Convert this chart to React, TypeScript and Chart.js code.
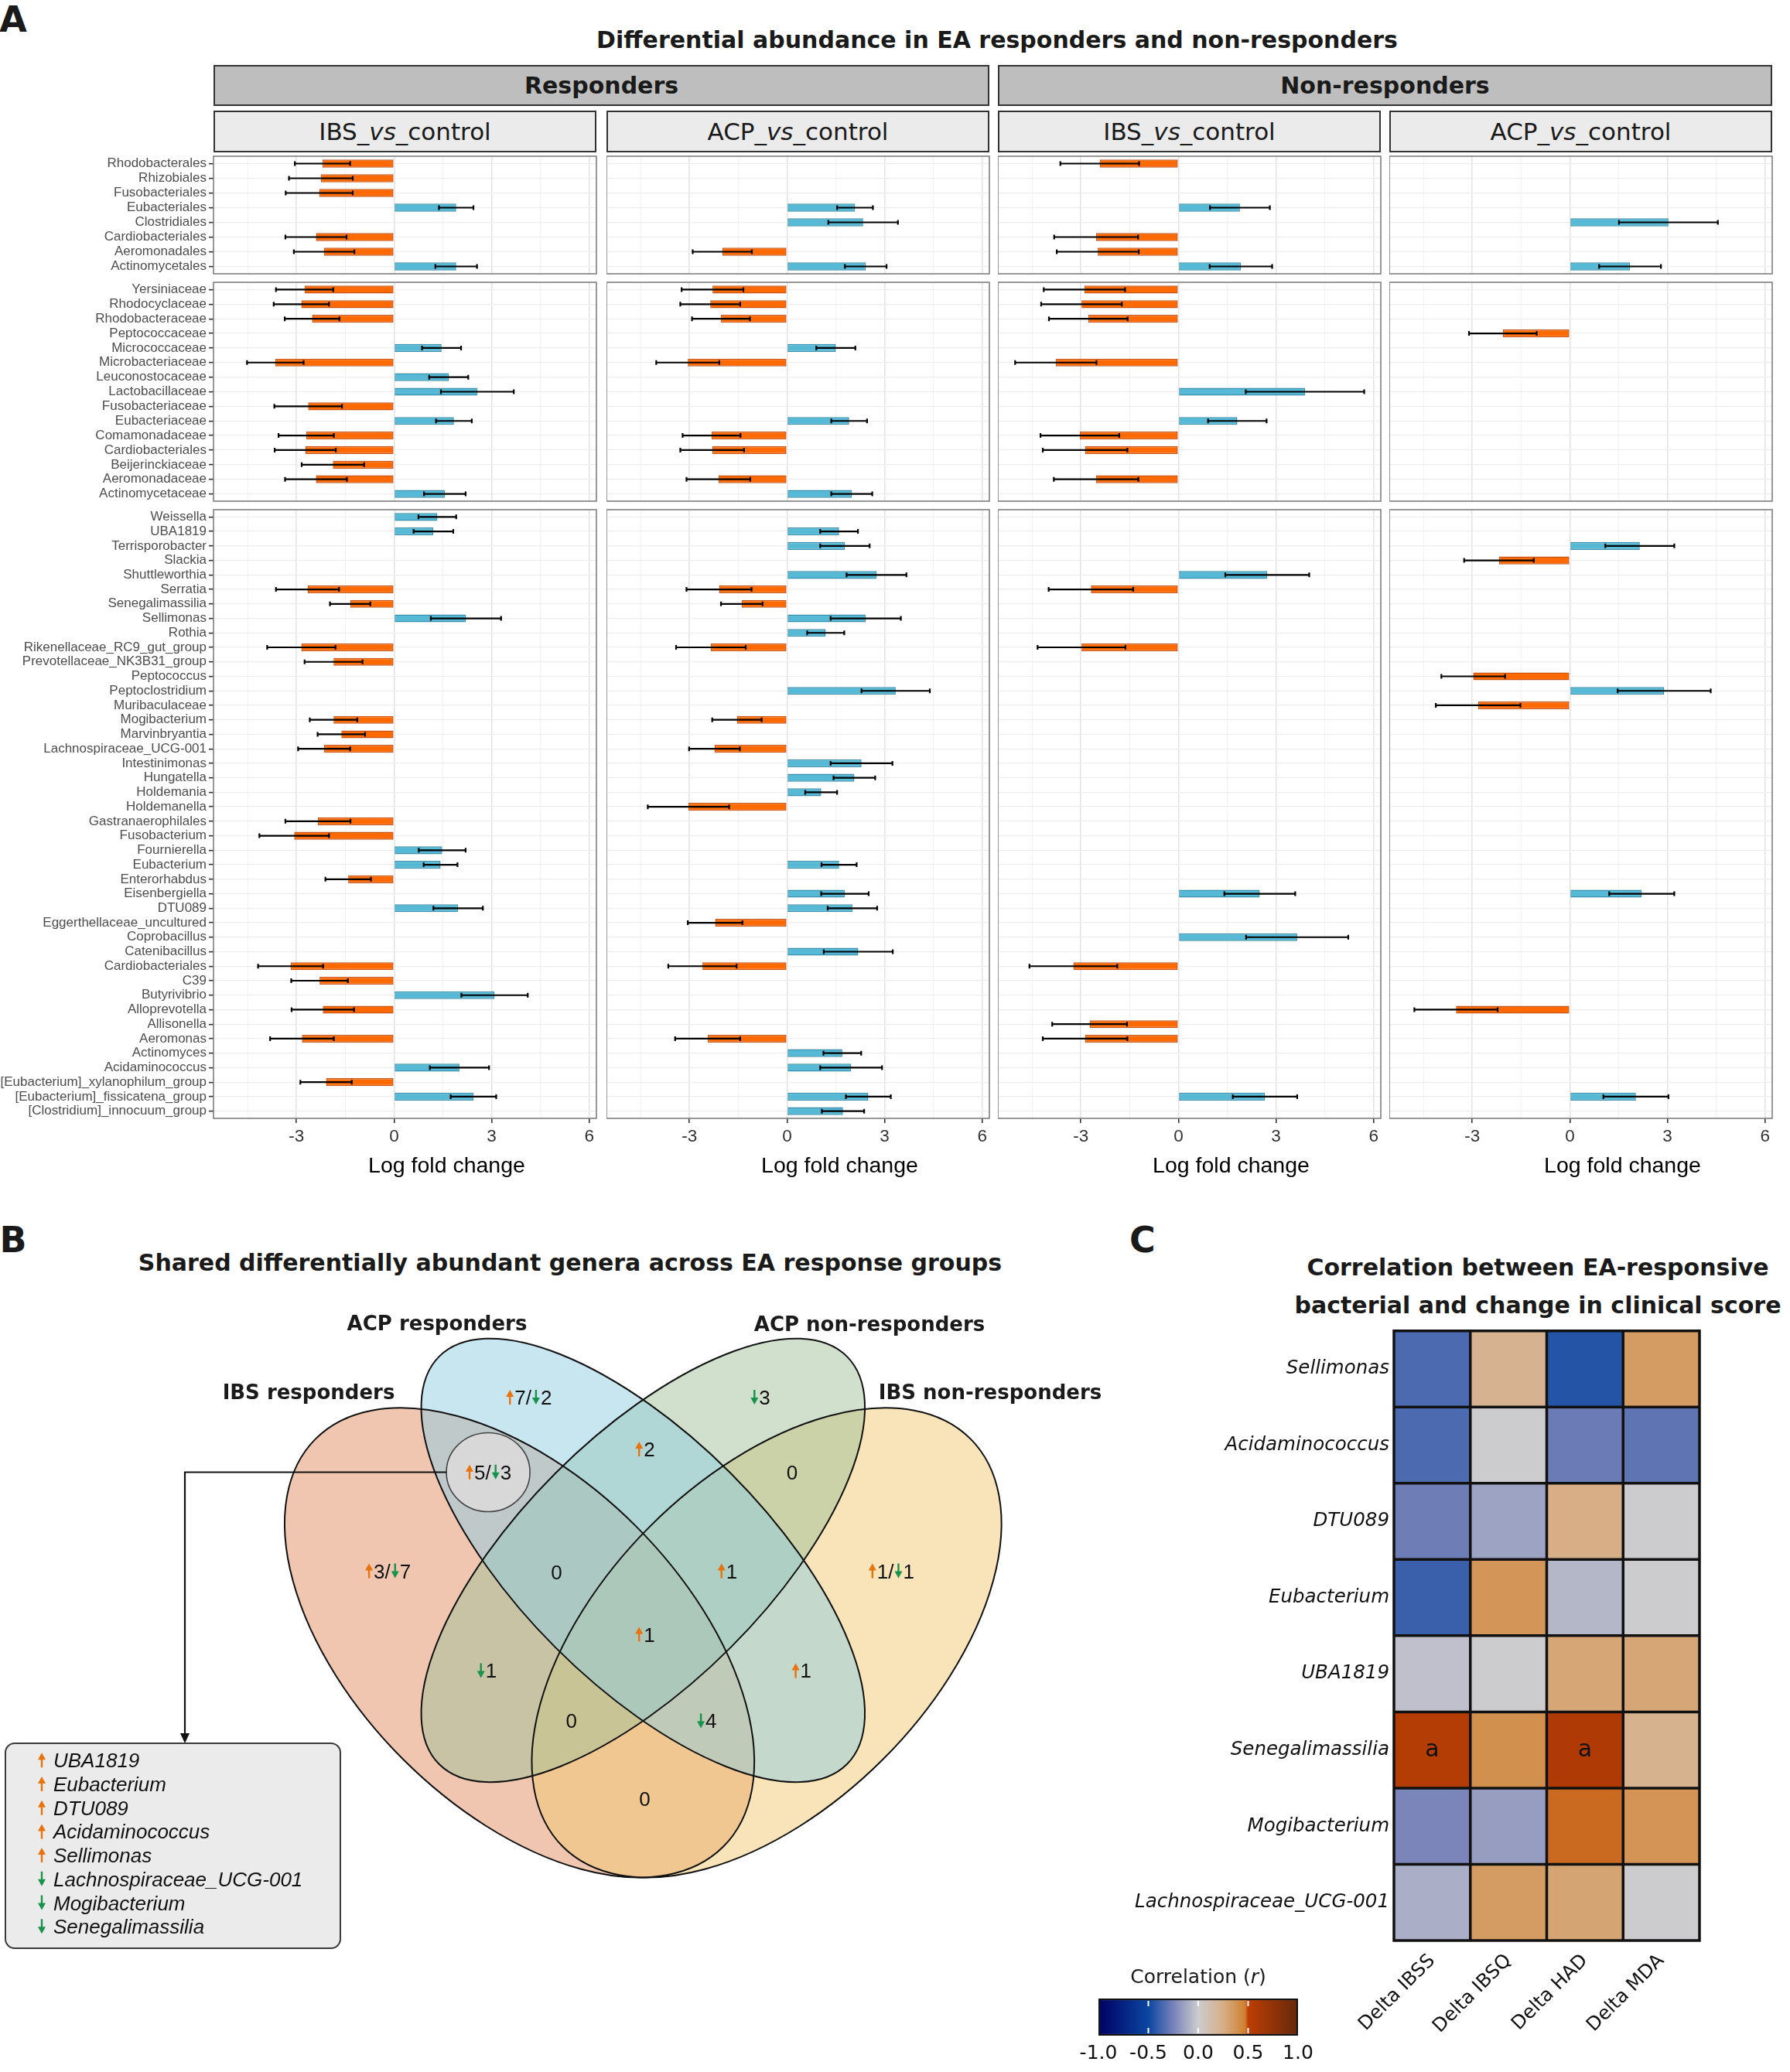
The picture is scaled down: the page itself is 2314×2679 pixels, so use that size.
import React, { useEffect, useRef } from "react";
import { Chart, registerables } from "chart.js";

Chart.register(...registerables);
Chart.defaults.font.family = "DejaVu Sans";
Chart.defaults.color = "#1A1A1A";

const N = null;

// ================= Panel A data =================
const orderLabels = ["Rhodobacterales", "Rhizobiales", "Fusobacteriales", "Eubacteriales", "Clostridiales", "Cardiobacteriales", "Aeromonadales", "Actinomycetales"];
const orderRespIBS = [-2.2, -2.25, -2.3, 1.91, N, -2.4, -2.15, 1.91];
const orderRespIBSErr = [0.85, 0.98, 1.03, 0.53, N, 0.94, 0.93, 0.64];
const orderRespACP = [N, N, N, 2.09, 2.34, N, -1.99, 2.42];
const orderRespACPErr = [N, N, N, 0.55, 1.07, N, 0.91, 0.64];
const orderNonIBS = [-2.42, N, N, 1.89, N, -2.53, -2.48, 1.92];
const orderNonIBSErr = [1.21, N, N, 0.92, N, 1.29, 1.26, 0.96];
const orderNonACP = [N, N, N, N, 3.03, N, N, 1.85];
const orderNonACPErr = [N, N, N, N, 1.52, N, N, 0.95];

const familyLabels = ["Yersiniaceae", "Rhodocyclaceae", "Rhodobacteraceae", "Peptococcaceae", "Micrococcaceae", "Microbacteriaceae", "Leuconostocaceae", "Lactobacillaceae", "Fusobacteriaceae", "Eubacteriaceae", "Comamonadaceae", "Cardiobacteriales", "Beijerinckiaceae", "Aeromonadaceae", "Actinomycetaceae"];
const famRespIBS = [-2.75, -2.85, -2.52, N, 1.46, -3.65, 1.68, 2.56, -2.64, 1.84, -2.7, -2.73, -1.88, -2.4, 1.56];
const famRespIBSErr = [0.88, 0.85, 0.84, N, 0.6, 0.87, 0.6, 1.12, 1.04, 0.55, 0.85, 0.94, 0.96, 0.95, 0.64];
const famRespACP = [-2.29, -2.36, -2.03, N, 1.5, -3.05, N, N, N, 1.91, -2.32, -2.3, N, -2.11, 1.99];
const famRespACPErr = [0.95, 0.92, 0.89, N, 0.6, 0.97, N, N, N, 0.55, 0.89, 0.98, N, 0.98, 0.63];
const famNonIBS = [-2.89, -2.98, -2.77, N, N, -3.77, N, 3.89, N, 1.81, -3.03, -2.87, N, -2.53, N];
const famNonIBSErr = [1.25, 1.24, 1.21, N, N, 1.25, N, 1.82, N, 0.9, 1.21, 1.3, N, 1.3, N];
const famNonACP = [N, N, N, -2.06, N, N, N, N, N, N, N, N, N, N, N];
const famNonACPErr = [N, N, N, 1.04, N, N, N, N, N, N, N, N, N, N, N];

const genusLabels = ["Weissella", "UBA1819", "Terrisporobacter", "Slackia", "Shuttleworthia", "Serratia", "Senegalimassilia", "Sellimonas", "Rothia", "Rikenellaceae_RC9_gut_group", "Prevotellaceae_NK3B31_group", "Peptococcus", "Peptoclostridium", "Muribaculaceae", "Mogibacterium", "Marvinbryantia", "Lachnospiraceae_UCG-001", "Intestinimonas", "Hungatella", "Holdemania", "Holdemanella", "Gastranaerophilales", "Fusobacterium", "Fournierella", "Eubacterium", "Enterorhabdus", "Eisenbergiella", "DTU089", "Eggerthellaceae_uncultured", "Coprobacillus", "Catenibacillus", "Cardiobacteriales", "C39", "Butyrivibrio", "Alloprevotella", "Allisonella", "Aeromonas", "Actinomyces", "Acidaminococcus", "[Eubacterium]_xylanophilum_group", "[Eubacterium]_fissicatena_group", "[Clostridium]_innocuum_group"];
const genRespIBS = [1.33, 1.21, N, N, N, -2.66, -1.35, 2.21, N, -2.85, -1.86, N, N, N, -1.86, -1.62, -2.15, N, N, N, N, -2.34, -3.07, 1.48, 1.43, -1.41, N, 1.97, N, N, N, -3.18, -2.29, 3.09, -2.19, N, -2.83, N, 2.01, -2.09, 2.44, N];
const genRespIBSErr = [0.58, 0.61, N, N, N, 0.97, 0.62, 1.08, N, 1.05, 0.89, N, N, N, 0.73, 0.73, 0.8, N, N, N, N, 1.0, 1.07, 0.72, 0.52, 0.7, N, 0.76, N, N, N, 1.0, 0.87, 1.02, 0.96, N, 0.98, N, 0.91, 0.79, 0.7, N];
const genRespACP = [N, 1.6, 1.78, N, 2.75, -2.09, -1.39, 2.42, 1.19, -2.34, N, N, 3.34, N, -1.54, N, -2.23, 2.29, 2.07, 1.05, -3.03, N, N, N, 1.6, N, 1.78, 2.01, -2.21, N, 2.19, -2.6, N, N, N, N, -2.44, 1.7, 1.97, N, 2.5, 1.72];
const genRespACPErr = [N, 0.58, 0.76, N, 0.92, 1.0, 0.64, 1.08, 0.57, 1.07, N, N, 1.05, N, 0.76, N, 0.78, 0.95, 0.64, 0.49, 1.25, N, N, N, 0.54, N, 0.73, 0.76, 0.84, N, 1.06, 1.05, N, N, N, N, 1.0, 0.58, 0.95, N, 0.69, 0.65];
const genNonIBS = [N, N, N, N, 2.73, -2.69, N, N, N, -2.98, N, N, N, N, N, N, N, N, N, N, N, N, N, N, N, N, 2.5, N, N, 3.65, N, -3.23, N, N, N, -2.73, -2.87, N, N, N, 2.66, N];
const genNonIBSErr = [N, N, N, N, 1.29, 1.3, N, N, N, 1.35, N, N, N, N, N, N, N, N, N, N, N, N, N, N, N, N, 1.09, N, N, 1.57, N, 1.35, N, N, N, 1.15, 1.3, N, N, N, 0.99, N];
const genNonACP = [N, N, 2.15, -2.18, N, N, N, N, N, N, N, -2.97, 2.9, -2.82, N, N, N, N, N, N, N, N, N, N, N, N, 2.21, N, N, N, N, N, N, N, -3.5, N, N, N, N, N, 2.03, N];
const genNonACPErr = [N, N, 1.06, 1.07, N, N, N, N, N, N, N, 0.98, 1.43, 1.3, N, N, N, N, N, N, N, N, N, N, N, N, 1.0, N, N, N, N, N, N, N, 1.28, N, N, N, N, N, 1.0, N];

const xTickValues = [-4.5, -3, -1.5, 0, 1.5, 3, 4.5, 6];
const X_MIN = -5.55;
const X_MAX = 6.22;
const xAxisTitle = "Log fold change";

// ================= Panel B data =================
const vennSets = ["IBS responders", "ACP responders", "ACP non-responders", "IBS non-responders"];
const ellCX = [0.35, 0.5, 0.5, 0.65];
const ellCY = [0.47, 0.57, 0.57, 0.47];
const ellA = [0.35, 0.35, 0.35, 0.35];
const ellB = [0.2, 0.15, 0.15, 0.2];
const ellRot = [45, 45, -45, -45];
const ellDrawOrder = [0, 3, 2, 1];
const regionX = [0.361, 0.642, 0.502, 0.312, 0.681, 0.19, 0.395, 0.602, 0.801, 0.502, 0.31, 0.692, 0.413, 0.577, 0.502];
const regionY = [0.768, 0.768, 0.705, 0.677, 0.677, 0.557, 0.556, 0.557, 0.557, 0.48, 0.436, 0.436, 0.375, 0.375, 0.281];
const regionUp = [7, 0, 2, 5, 0, 3, 0, 1, 1, 1, 0, 1, 0, 0, 0];
const regionDown = [2, 3, 0, 3, 0, 7, 0, 0, 1, 0, 1, 0, 0, 4, 0];
const highlightRegion = 3;
const sharedUp = ["UBA1819", "Eubacterium", "DTU089", "Acidaminococcus", "Sellimonas"];
const sharedDown = ["Lachnospiraceae_UCG-001", "Mogibacterium", "Senegalimassilia"];

// ================= Panel C data =================
const heatRows = ["Sellimonas", "Acidaminococcus", "DTU089", "Eubacterium", "UBA1819", "Senegalimassilia", "Mogibacterium", "Lachnospiraceae_UCG-001"];
const heatCols = ["Delta IBSS", "Delta IBSQ", "Delta HAD", "Delta MDA"];
const corrIBSS = [-0.35, -0.35, -0.27, -0.39, -0.04, 0.555, -0.24, -0.1];
const corrIBSQ = [0.22, 0.0, -0.14, 0.37, 0.0, 0.395, -0.16, 0.34];
const corrHAD = [-0.44, -0.28, 0.255, -0.07, 0.29, 0.58, 0.48, 0.3];
const corrMDA = [0.34, -0.31, 0.0, 0.0, 0.29, 0.225, 0.375, 0.0];
const sigIBSS = ["", "", "", "", "", "a", "", ""];
const sigIBSQ = ["", "", "", "", "", "", "", ""];
const sigHAD = ["", "", "", "", "", "a", "", ""];
const sigMDA = ["", "", "", "", "", "", "", ""];
const colorbarTicks = [-1, -0.5, 0, 0.5, 1];

// ================= styles =================
const ORANGE_FILL = "#FF6A00";
const ORANGE_LINE = "#C9561B";
const BLUE_FILL = "#56B9D6";
const BLUE_LINE = "#3B91AC";
const ARROW_UP = "#E8730C";
const ARROW_DOWN = "#18924C";
const VENN_FILLS = ["rgba(225,142,100,0.5)", "rgba(145,205,225,0.5)", "rgba(161,193,153,0.5)", "rgba(241,201,113,0.5)"];
const corrStops = [-1, -0.5, -0.25, 0, 0.25, 0.47, 0.5, 1];
const corrRGB = [[0, 0, 100], [10, 70, 160], [120, 130, 185], [204, 204, 206], [215, 175, 135], [208, 128, 48], [190, 62, 4], [100, 40, 10]];

const COL_X = [276, 784, 1290, 1796];
const PANEL_W = 495;
const ROW_Y = [202, 365, 659];
const ROW_H = [152, 283, 787];

function corrColor(v: number) {
  for (let i = 0; i < corrStops.length - 1; i++) {
    if (v <= corrStops[i + 1] || i === corrStops.length - 2) {
      const f = Math.max(0, Math.min(1, (v - corrStops[i]) / (corrStops[i + 1] - corrStops[i])));
      const a = corrRGB[i], b = corrRGB[i + 1];
      return `rgb(${Math.round(a[0] + (b[0] - a[0]) * f)},${Math.round(a[1] + (b[1] - a[1]) * f)},${Math.round(a[2] + (b[2] - a[2]) * f)})`;
    }
  }
  return "#ccc";
}

const isMajor = (v: any) => Math.abs(Number(v) % 3) < 1e-6;

function useChart(make: (c: HTMLCanvasElement) => any) {
  const ref = useRef<HTMLCanvasElement>(null);
  useEffect(() => {
    const ch = make(ref.current as HTMLCanvasElement);
    return () => ch.destroy();
  }, []);
  return ref;
}

function BarPanel({ labels, values, errs, col, row }: any) {
  const L = COL_X[col], W = PANEL_W, T = ROW_Y[row], H = ROW_H[row];
  const showY = col === 0;
  const showX = row === 2;
  const lm = showY ? L : 0;
  const padTop = 14, padRight = 4, padBottom = showX ? 0 : 14, axisH = showX ? 82 : 0;
  const cw = lm + W + padRight;
  const chh = padTop + H + axisH + padBottom;
  const ref = useChart((cv) => {
    const errPlugin = {
      id: "errbars",
      afterDatasetsDraw(chart: any) {
        const { ctx } = chart;
        const xs = chart.scales.x;
        const meta = chart.getDatasetMeta(0);
        ctx.save();
        ctx.strokeStyle = "#000";
        ctx.lineWidth = 2.2;
        values.forEach((v: any, i: number) => {
          const e = errs[i];
          if (v == null || e == null) return;
          const yc = meta.data[i].y;
          const x1 = xs.getPixelForValue(v - e), x2 = xs.getPixelForValue(v + e);
          ctx.beginPath();
          ctx.moveTo(x1, yc); ctx.lineTo(x2, yc);
          ctx.moveTo(x1, yc - 3); ctx.lineTo(x1, yc + 3);
          ctx.moveTo(x2, yc - 3); ctx.lineTo(x2, yc + 3);
          ctx.stroke();
        });
        ctx.restore();
      },
      afterDraw(chart: any) {
        const { ctx, chartArea: a } = chart;
        ctx.save();
        ctx.strokeStyle = "#7F7F7F";
        ctx.lineWidth = 1.6;
        ctx.strokeRect(a.left, a.top, a.right - a.left, a.bottom - a.top);
        if (showX) {
          ctx.font = '28.5px "Liberation Sans"';
          ctx.fillStyle = "#000";
          ctx.textAlign = "center";
          ctx.textBaseline = "middle";
          ctx.fillText(xAxisTitle, (a.left + a.right) / 2 + 54, a.bottom + 62);
        }
        ctx.restore();
      },
    };
    return new Chart(cv, {
      type: "bar",
      data: {
        labels,
        datasets: [{
          data: values,
          backgroundColor: values.map((v: any) => ((v ?? 0) >= 0 ? BLUE_FILL : ORANGE_FILL)),
          borderColor: values.map((v: any) => ((v ?? 0) >= 0 ? BLUE_LINE : ORANGE_LINE)),
          borderWidth: 1.5,
          borderSkipped: false,
          barPercentage: 0.54,
          categoryPercentage: 1,
        }],
      },
      options: {
        indexAxis: "y",
        animation: false,
        responsive: false,
        events: [],
        layout: { padding: { top: padTop, right: padRight, bottom: padBottom, left: 0 } },
        plugins: { legend: { display: false }, tooltip: { enabled: false } },
        scales: {
          x: {
            type: "linear",
            min: X_MIN,
            max: X_MAX,
            afterBuildTicks: (s: any) => { s.ticks = xTickValues.map((v) => ({ value: v })); },
            afterFit: (s: any) => { s.height = axisH; },
            grid: {
              color: (c: any) => (c.tick && isMajor(c.tick.value) ? "#E4E4E4" : "#F2F2F2"),
              lineWidth: (c: any) => (c.tick && isMajor(c.tick.value) ? 1.6 : 1),
              drawTicks: showX,
              tickLength: 6,
              tickWidth: 1.6,
              tickColor: (c: any) => (c.tick && isMajor(c.tick.value) ? "#333" : "rgba(0,0,0,0)"),
            },
            border: { display: false },
            ticks: {
              display: showX,
              autoSkip: false,
              maxRotation: 0,
              padding: 4,
              font: { family: "Liberation Sans", size: 22.5 },
              color: "#333",
              callback: (v: any) => (isMajor(v) ? String(v) : ""),
            },
            title: { display: false },
          },
          y: {
            type: "category",
            afterFit: (s: any) => { s.width = lm; },
            grid: {
              offset: false,
              color: "#EDEDED",
              lineWidth: 1.3,
              drawTicks: showY,
              tickLength: 6,
              tickWidth: 1.6,
              tickColor: "#333",
            },
            border: { display: false },
            ticks: {
              display: showY,
              autoSkip: false,
              padding: 3,
              font: { family: "Liberation Sans", size: 17 },
              color: "#4D4D4D",
            },
          },
        },
      } as any,
      plugins: [errPlugin],
    });
  });
  return <canvas ref={ref} width={cw} height={chh} style={{ position: "absolute", left: L - lm, top: T - padTop, width: cw, height: chh }} />;
}

function drawArrow(ctx: any, x: number, base: number, up: boolean, h: number) {
  const top = base - h, hw = 5, hl = 9, sw = 2.4;
  ctx.fillStyle = up ? ARROW_UP : ARROW_DOWN;
  ctx.beginPath();
  if (up) {
    ctx.moveTo(x, top); ctx.lineTo(x + hw, top + hl); ctx.lineTo(x + sw / 2, top + hl); ctx.lineTo(x + sw / 2, base);
    ctx.lineTo(x - sw / 2, base); ctx.lineTo(x - sw / 2, top + hl); ctx.lineTo(x - hw, top + hl);
  } else {
    ctx.moveTo(x, base); ctx.lineTo(x + hw, base - hl); ctx.lineTo(x + sw / 2, base - hl); ctx.lineTo(x + sw / 2, top);
    ctx.lineTo(x - sw / 2, top); ctx.lineTo(x - sw / 2, base - hl); ctx.lineTo(x - hw, base - hl);
  }
  ctx.closePath();
  ctx.fill();
}

function drawCount(ctx: any, cx: number, cy: number, up: number, down: number) {
  const parts: any[] = [];
  if (up > 0) { parts.push({ t: "up" }); parts.push({ t: "txt", s: String(up) }); }
  if (up > 0 && down > 0) parts.push({ t: "txt", s: "/" });
  if (down > 0) { parts.push({ t: "down" }); parts.push({ t: "txt", s: String(down) }); }
  if (up === 0 && down === 0) parts.push({ t: "txt", s: "0" });
  const AW = 12;
  const widths = parts.map((p) => (p.t === "txt" ? ctx.measureText(p.s).width : AW));
  const total = widths.reduce((a: number, b: number) => a + b, 0);
  let xx = cx - total / 2;
  const base = cy + 9.3;
  parts.forEach((p, i) => {
    if (p.t === "txt") {
      ctx.fillStyle = "#111";
      ctx.textAlign = "left";
      ctx.textBaseline = "alphabetic";
      ctx.fillText(p.s, xx, base);
    } else {
      drawArrow(ctx, xx + AW / 2, base, p.t === "up", 19);
    }
    xx += widths[i];
  });
}

const VENN_LEFT = 0, VENN_TOP = 1660, VENN_W = 1450, VENN_H = 900;

function Venn() {
  const ref = useChart((cv) => {
    const plugin = {
      id: "venn",
      beforeDatasetsDraw(chart: any) {
        const { ctx } = chart;
        const { x, y } = chart.scales;
        const k = x.getPixelForValue(1) - x.getPixelForValue(0);
        const path = (i: number) => {
          ctx.beginPath();
          ctx.ellipse(x.getPixelForValue(ellCX[i]), y.getPixelForValue(ellCY[i]), ellA[i] * k, ellB[i] * k, (ellRot[i] * Math.PI) / 180, 0, Math.PI * 2);
        };
        ctx.save();
        ellDrawOrder.forEach((i) => {
          path(i);
          ctx.fillStyle = VENN_FILLS[i];
          ctx.fill();
        });
        ctx.lineWidth = 2;
        ctx.strokeStyle = "#111";
        ellDrawOrder.forEach((i) => {
          path(i);
          ctx.stroke();
        });
        ctx.restore();
      },
      afterDatasetsDraw(chart: any) {
        const { ctx } = chart;
        const meta = chart.getDatasetMeta(0);
        const hp = meta.data[highlightRegion];
        const lineX = 239 - VENN_LEFT;
        const boxTop = 2254 - VENN_TOP;
        ctx.save();
        ctx.beginPath();
        ctx.ellipse(hp.x, hp.y, 54, 51, 0, 0, Math.PI * 2);
        ctx.fillStyle = "#D8D8D8";
        ctx.fill();
        ctx.lineWidth = 1.6;
        ctx.strokeStyle = "#444";
        ctx.stroke();
        ctx.beginPath();
        ctx.moveTo(hp.x - 54, hp.y);
        ctx.lineTo(lineX, hp.y);
        ctx.lineTo(lineX, boxTop - 12);
        ctx.lineWidth = 2.2;
        ctx.strokeStyle = "#111";
        ctx.stroke();
        ctx.beginPath();
        ctx.moveTo(lineX - 6, boxTop - 13);
        ctx.lineTo(lineX + 6, boxTop - 13);
        ctx.lineTo(lineX, boxTop);
        ctx.closePath();
        ctx.fillStyle = "#111";
        ctx.fill();
        ctx.beginPath();
        ctx.roundRect(7 - VENN_LEFT, boxTop, 433, 265, 12);
        ctx.fillStyle = "#EBEBEB";
        ctx.fill();
        ctx.lineWidth = 2;
        ctx.strokeStyle = "#3A3A3A";
        ctx.stroke();
        ctx.font = 'italic 26px "Liberation Sans"';
        const items = [...sharedUp.map((s) => ({ s, up: true })), ...sharedDown.map((s) => ({ s, up: false }))];
        items.forEach((it, i) => {
          const base = boxTop + 22 + i * 30.7 + 9.3;
          drawArrow(ctx, 54 - VENN_LEFT, base, it.up, 19);
          ctx.fillStyle = "#111";
          ctx.textAlign = "left";
          ctx.textBaseline = "alphabetic";
          ctx.fillText(it.s, 69 - VENN_LEFT, base);
        });
        ctx.font = '26px "Liberation Sans"';
        meta.data.forEach((pt: any, i: number) => drawCount(ctx, pt.x, pt.y, regionUp[i], regionDown[i]));
        ctx.restore();
      },
    };
    const px2ux = (p: number) => (p - 298.8) / 1065;
    const py2uy = (p: number) => (2624.5 - p) / 1065;
    return new Chart(cv, {
      type: "scatter",
      data: { datasets: [{ data: regionX.map((x, i) => ({ x, y: regionY[i] })), pointRadius: 0, pointHoverRadius: 0 }] },
      options: {
        animation: false,
        responsive: false,
        events: [],
        layout: { padding: 0 },
        plugins: { legend: { display: false }, tooltip: { enabled: false } },
        scales: {
          x: { type: "linear", display: false, min: px2ux(VENN_LEFT), max: px2ux(VENN_LEFT + VENN_W) },
          y: { type: "linear", display: false, min: py2uy(VENN_TOP + VENN_H), max: py2uy(VENN_TOP) },
        },
      } as any,
      plugins: [plugin],
    });
  });
  return <canvas ref={ref} width={VENN_W} height={VENN_H} style={{ position: "absolute", left: VENN_LEFT, top: VENN_TOP, width: VENN_W, height: VENN_H }} />;
}

function Heatmap() {
  const corrCols = [corrIBSS, corrIBSQ, corrHAD, corrMDA];
  const sigCols = [sigIBSS, sigIBSQ, sigHAD, sigMDA];
  const ref = useChart((cv) => {
    const plugin = {
      id: "heatgrid",
      afterDatasetsDraw(chart: any) {
        const { ctx, chartArea: a } = chart;
        const { x, y } = chart.scales;
        ctx.save();
        ctx.font = '30px "DejaVu Sans"';
        ctx.fillStyle = "#111";
        ctx.textAlign = "center";
        ctx.textBaseline = "middle";
        sigCols.forEach((col, j) => col.forEach((s, i) => {
          if (s) ctx.fillText(s, x.getPixelForValue(j + 0.5), y.getPixelForValue(i) + 1);
        }));
        ctx.strokeStyle = "#111";
        ctx.lineWidth = 3.5;
        ctx.beginPath();
        for (let k = 0; k <= heatCols.length; k++) {
          const px = x.getPixelForValue(k);
          ctx.moveTo(px, a.top); ctx.lineTo(px, a.bottom);
        }
        const n = heatRows.length;
        for (let i = 0; i <= n; i++) {
          let py;
          if (i === 0) py = a.top;
          else if (i === n) py = a.bottom;
          else py = (y.getPixelForValue(i - 1) + y.getPixelForValue(i)) / 2;
          ctx.moveTo(a.left - 1.75, py); ctx.lineTo(a.right + 1.75, py);
        }
        ctx.stroke();
        ctx.restore();
      },
    };
    return new Chart(cv, {
      type: "bar",
      data: {
        labels: heatRows,
        datasets: heatCols.map((c, j) => ({
          label: c,
          data: heatRows.map(() => 1),
          backgroundColor: corrCols[j].map(corrColor),
          borderWidth: 0,
          barPercentage: 1,
          categoryPercentage: 1,
        })),
      },
      options: {
        indexAxis: "y",
        animation: false,
        responsive: false,
        events: [],
        layout: { padding: { top: 20, right: 117, left: 0, bottom: 0 } },
        plugins: { legend: { display: false }, tooltip: { enabled: false } },
        scales: {
          x: { type: "linear", min: 0, max: 4, stacked: true, display: false },
          y: {
            type: "category",
            stacked: true,
            offset: true,
            afterFit: (s: any) => { s.width = 402; },
            grid: { display: false, drawTicks: false },
            border: { display: false },
            ticks: { autoSkip: false, padding: 6, color: "#111", font: { family: "DejaVu Sans", size: 24.5, style: "italic" } },
          },
          xcol: {
            type: "category",
            labels: heatCols,
            position: "bottom",
            offset: true,
            afterFit: (s: any) => { s.height = 170; },
            grid: { display: false, drawTicks: false },
            border: { display: false },
            ticks: { autoSkip: false, minRotation: 45, maxRotation: 45, padding: 12, color: "#111", font: { family: "DejaVu Sans", size: 24.5 } },
          },
        },
      } as any,
      plugins: [plugin],
    });
  });
  return <canvas ref={ref} width={914} height={979} style={{ position: "absolute", left: 1400, top: 1700, width: 914, height: 979 }} />;
}

function ColorBar() {
  const ref = useChart((cv) => {
    const plugin = {
      id: "cbticks",
      afterDatasetsDraw(chart: any) {
        const { ctx, chartArea: a } = chart;
        const x = chart.scales.x;
        ctx.save();
        ctx.strokeStyle = "#FFFFFF";
        ctx.lineWidth = 2;
        ctx.beginPath();
        colorbarTicks.slice(1, -1).forEach((v) => {
          const px = x.getPixelForValue(v);
          ctx.moveTo(px, a.top + 3); ctx.lineTo(px, a.top + 10);
          ctx.moveTo(px, a.bottom - 10); ctx.lineTo(px, a.bottom - 3);
        });
        ctx.stroke();
        ctx.restore();
      },
    };
    return new Chart(cv, {
      type: "bar",
      data: {
        labels: ["r"],
        datasets: [{
          data: [[-1, 1]],
          backgroundColor: (c: any) => {
            const area = c.chart.chartArea;
            if (!area) return "#ccc";
            const g = c.chart.ctx.createLinearGradient(area.left, 0, area.right, 0);
            corrStops.forEach((s, i) => g.addColorStop((s + 1) / 2, `rgb(${corrRGB[i].join(",")})`));
            return g;
          },
          borderColor: "#111",
          borderWidth: 2.5,
          borderSkipped: false,
          barPercentage: 1,
          categoryPercentage: 1,
        }],
      },
      options: {
        indexAxis: "y",
        animation: false,
        responsive: false,
        events: [],
        layout: { padding: { left: 50, right: 32, top: 14, bottom: 0 } },
        plugins: { legend: { display: false }, tooltip: { enabled: false } },
        scales: {
          x: {
            type: "linear",
            min: -1,
            max: 1,
            afterBuildTicks: (s: any) => { s.ticks = colorbarTicks.map((v) => ({ value: v })); },
            afterFit: (s: any) => { s.height = 47; },
            grid: { display: false, drawTicks: false },
            border: { display: false },
            ticks: { autoSkip: false, maxRotation: 0, padding: 8, color: "#111", font: { family: "DejaVu Sans", size: 25 }, callback: (v: any) => Number(v).toFixed(1) },
          },
          y: { type: "category", display: false, offset: true },
        },
      } as any,
      plugins: [plugin],
    });
  });
  return <canvas ref={ref} width={340} height={109} style={{ position: "absolute", left: 1370, top: 2570, width: 340, height: 109 }} />;
}

function Txt({ x, y, size, bold = false, italic = false, family = "DejaVu Sans", color = "#1A1A1A", children }: any) {
  return (
    <div style={{ position: "absolute", left: x, top: y, transform: "translate(-50%,-50%)", fontFamily: family, fontSize: size, fontWeight: bold ? 700 : 400, fontStyle: italic ? "italic" : "normal", color, lineHeight: 1, whiteSpace: "nowrap" }}>
      {children}
    </div>
  );
}

function Strip({ x, y, w, h, bg, size, bold, children }: any) {
  return (
    <div style={{ position: "absolute", left: x, top: y, width: w, height: h, boxSizing: "border-box", border: "2px solid #333", background: bg, display: "flex", alignItems: "center", justifyContent: "center", fontFamily: "DejaVu Sans", fontSize: size, fontWeight: bold ? 700 : 400, color: "#1A1A1A", whiteSpace: "nowrap" }}>
      {children}
    </div>
  );
}

export default function App() {
  const rows = [
    { labels: orderLabels, series: [[orderRespIBS, orderRespIBSErr], [orderRespACP, orderRespACPErr], [orderNonIBS, orderNonIBSErr], [orderNonACP, orderNonACPErr]] },
    { labels: familyLabels, series: [[famRespIBS, famRespIBSErr], [famRespACP, famRespACPErr], [famNonIBS, famNonIBSErr], [famNonACP, famNonACPErr]] },
    { labels: genusLabels, series: [[genRespIBS, genRespIBSErr], [genRespACP, genRespACPErr], [genNonIBS, genNonIBSErr], [genNonACP, genNonACPErr]] },
  ];
  const subStrip = (name: string) => (<span>{name}_<i>vs</i>_control</span>);
  return (
    <div style={{ position: "absolute", left: 0, top: 0, width: 2314, height: 2679, background: "#FFFFFF", overflow: "hidden" }}>
      {/* Panel A */}
      <Txt x={17} y={25} size={46} bold>A</Txt>
      <Txt x={1289} y={52} size={30} bold>Differential abundance in EA responders and non-responders</Txt>
      <Strip x={276} y={84} w={1003} h={53} bg="#BEBEBE" size={30} bold>Responders</Strip>
      <Strip x={1290} y={84} w={1001} h={53} bg="#BEBEBE" size={30} bold>Non-responders</Strip>
      <Strip x={276} y={143} w={495} h={54} bg="#EBEBEB" size={31}>{subStrip("IBS")}</Strip>
      <Strip x={784} y={143} w={495} h={54} bg="#EBEBEB" size={31}>{subStrip("ACP")}</Strip>
      <Strip x={1290} y={143} w={495} h={54} bg="#EBEBEB" size={31}>{subStrip("IBS")}</Strip>
      <Strip x={1796} y={143} w={495} h={54} bg="#EBEBEB" size={31}>{subStrip("ACP")}</Strip>
      {rows.map((r, ri) => r.series.map((s, ci) => (
        <BarPanel key={`${ri}-${ci}`} labels={r.labels} values={s[0]} errs={s[1]} col={ci} row={ri} />
      )))}

      {/* Panel B */}
      <Txt x={17} y={1603} size={46} bold>B</Txt>
      <Txt x={737} y={1633} size={30} bold>Shared differentially abundant genera across EA response groups</Txt>
      <Venn />
      <Txt x={399} y={1800} size={26} bold>{vennSets[0]}</Txt>
      <Txt x={565} y={1711} size={26} bold>{vennSets[1]}</Txt>
      <Txt x={1124} y={1712} size={26} bold>{vennSets[2]}</Txt>
      <Txt x={1280} y={1800} size={26} bold>{vennSets[3]}</Txt>

      {/* Panel C */}
      <Txt x={1477} y={1603} size={46} bold>C</Txt>
      <Txt x={1988} y={1639} size={30} bold>Correlation between EA-responsive</Txt>
      <Txt x={1988} y={1688} size={30} bold>bacterial and change in clinical score</Txt>
      <Heatmap />
      <ColorBar />
      <Txt x={1549} y={2555} size={25}>Correlation (<i>r</i>)</Txt>
    </div>
  );
}
